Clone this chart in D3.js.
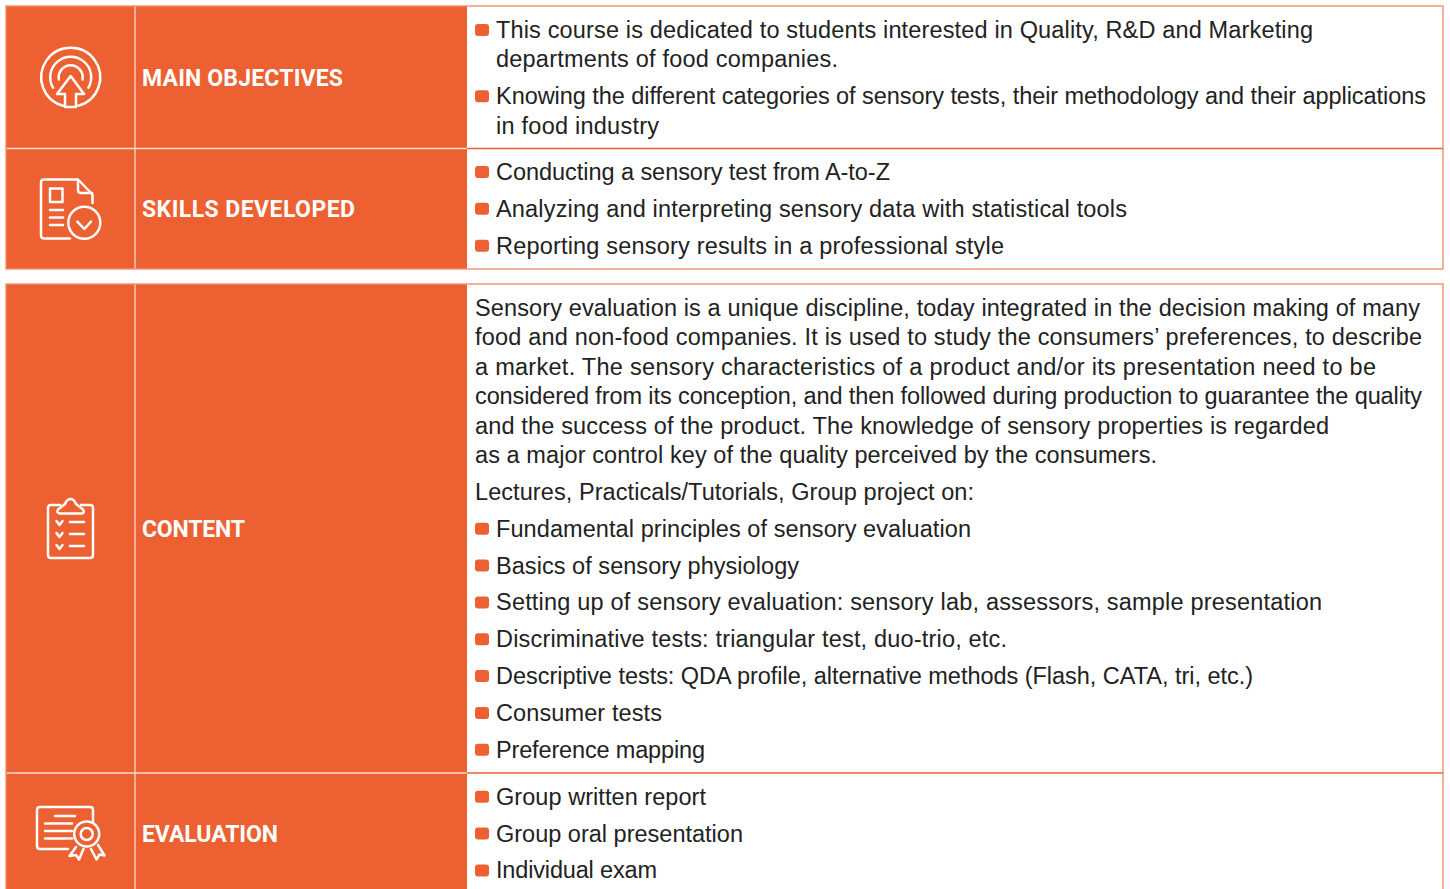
<!DOCTYPE html>
<html>
<head>
<meta charset="utf-8">
<title>Course sheet</title>
<script src="https://cdn.jsdelivr.net/npm/d3@7"></script>
<style>
    html, body { margin: 0; padding: 0; background: #fff; overflow: hidden; }
    svg { display: block; }
    .heading { font-family: Roboto, sans-serif; font-weight: 700; font-size: 23px; fill: #fff; }
    .line { font-family: "Liberation Sans", sans-serif; font-size: 23.5px; fill: #222; }
    .icon { fill: none; stroke: #fff; stroke-width: 2.5; stroke-linecap: round; stroke-linejoin: round; }
</style>
</head>
<body>
<svg id="sheet" width="1450" height="889"></svg>
<script>
// each entry is one item, each item is its wrapped lines
const objectives = [
    ["This course is dedicated to students interested in Quality, R&D and Marketing", "departments of food companies."],
    ["Knowing the different categories of sensory tests, their methodology and their applications", "in food industry"]
];
const skills = [
    ["Conducting a sensory test from A-to-Z"],
    ["Analyzing and interpreting sensory data with statistical tools"],
    ["Reporting sensory results in a professional style"]
];
const contentIntro = [
    ["Sensory evaluation is a unique discipline, today integrated in the decision making of many",
     "food and non-food companies. It is used to study the consumers\u2019 preferences, to describe",
     "a market. The sensory characteristics of a product and/or its presentation need to be",
     "considered from its conception, and then followed during production to guarantee the quality",
     "and the success of the product. The knowledge of sensory properties is regarded",
     "as a major control key of the quality perceived by the consumers."],
    ["Lectures, Practicals/Tutorials, Group project on:"]
];
const contentTopics = [
    ["Fundamental principles of sensory evaluation"],
    ["Basics of sensory physiology"],
    ["Setting up of sensory evaluation: sensory lab, assessors, sample presentation"],
    ["Discriminative tests: triangular test, duo-trio, etc."],
    ["Descriptive tests: QDA profile, alternative methods (Flash, CATA, tri, etc.)"],
    ["Consumer tests"],
    ["Preference mapping"]
];
const evaluation = [
    ["Group written report"],
    ["Group oral presentation"],
    ["Individual exam"]
];

const ORANGE = "#ec6031";
const EDGE = "#f3906f";
const RULE = "#fbd9cb";
const colX = [6, 135, 467, 1443];
const LINE_GAP = 29.4;
const ITEM_GAP = 36.85;

// where each line of text ends, the font here runs a bit wider than the original
const lineEnds = [1313, 838, 1426, 659, 890, 1127, 1004, 1420, 1422, 1376, 1422, 1329, 1157, 974,
    971, 799, 1322, 1007, 1253, 662, 705, 706, 743, 657];
let lineNo = 0;

const svg = d3.select("#sheet");

const rows = [
    { title: "MAIN OBJECTIVES", titleWidth: 201, titleY: 86, top: 6, bottom: 148.5, first: 30, icon: drawTarget,
      blocks: [{ items: objectives, bullet: true }] },
    { title: "SKILLS DEVELOPED", titleWidth: 213, titleY: 217, top: 148.5, bottom: 269, first: 172, icon: drawDoc,
      blocks: [{ items: skills, bullet: true }] },
    { title: "CONTENT", titleWidth: 103, titleY: 537, top: 284, bottom: 773, first: 308, icon: drawClipboard,
      blocks: [{ items: contentIntro, bullet: false }, { items: contentTopics, bullet: true }] },
    { title: "EVALUATION", titleWidth: 136, titleY: 842, top: 773, bottom: 895, first: 796.7, icon: drawCertificate,
      blocks: [{ items: evaluation, bullet: true }] }
];

const row = svg.selectAll("g.row").data(rows).join("g").attr("class", "row");

row.append("rect")
    .attr("x", colX[0]).attr("y", d => d.top)
    .attr("width", colX[2] - colX[0]).attr("height", d => d.bottom - d.top)
    .attr("fill", ORANGE);

row.append("line")
    .attr("x1", colX[1]).attr("x2", colX[1])
    .attr("y1", d => d.top).attr("y2", d => d.bottom)
    .attr("stroke", RULE).attr("stroke-width", 1.3);

row.append("text")
    .attr("class", "heading")
    .attr("x", 142)
    .attr("y", d => d.titleY)
    .attr("textLength", d => d.titleWidth)
    .text(d => d.title);

// panel outlines and the rules between rows
[[6, 269], [284, 895]].forEach(([top, bottom]) => {
    svg.append("rect")
        .attr("x", colX[0]).attr("y", top)
        .attr("width", colX[3] - colX[0]).attr("height", bottom - top)
        .attr("fill", "none").attr("stroke", EDGE).attr("stroke-width", 1.4);
});
[148.5, 773].forEach(y => {
    svg.append("line").attr("x1", colX[0] + 1).attr("x2", colX[2]).attr("y1", y).attr("y2", y)
        .attr("stroke", RULE).attr("stroke-width", 1.3);
    svg.append("line").attr("x1", colX[2]).attr("x2", colX[3]).attr("y1", y).attr("y2", y)
        .attr("stroke", ORANGE).attr("stroke-width", 1.3);
});

rows.forEach(r => {
    let y = r.first;
    r.blocks.forEach(block => {
        block.items.forEach(item => {
            if (block.bullet) {
                svg.append("rect")
                    .attr("x", 475).attr("y", y - 6)
                    .attr("width", 14).attr("height", 12).attr("rx", 3)
                    .attr("fill", ORANGE);
            }
            item.forEach((txt, i) => {
                const x = block.bullet ? 496 : 475;
                svg.append("text")
                    .attr("class", "line")
                    .attr("x", x)
                    .attr("y", y + i * LINE_GAP + 8)
                    .attr("textLength", lineEnds[lineNo++] - x)
                    .text(txt);
            });
            y += (item.length - 1) * LINE_GAP + ITEM_GAP;
        });
    });
    r.icon(svg.append("g").attr("class", "icon"));
});

function drawTarget(g) {
    const arc = d3.arc();
    const cx = 70.7, cy = 77.3;
    [[29.5, 2.88], [20.5, 2.1], [12, 1.75]].forEach(([r, a]) => {
        g.append("path")
            .attr("transform", `translate(${cx},${cy})`)
            .attr("d", arc({ innerRadius: r, outerRadius: r, startAngle: -a, endAngle: a }));
    });
    g.append("path").attr("d", "M70.7 76 L57 94 H65 V107 H76 V94 H84 Z");
}

function drawDoc(g) {
    g.append("path").attr("d", "M70 238.5 H44 Q41 238.5 41 235.5 V182.5 Q41 179.5 44 179.5 H78 L92.5 194.5 V203");
    g.append("path").attr("d", "M78 180 V190 Q78 193 81 193 H92");
    g.append("rect").attr("x", 50).attr("y", 188.5).attr("width", 12.5).attr("height", 13.5);
    [210, 217.5, 225].forEach(y => g.append("path").attr("d", `M50 ${y} H63`));
    g.append("circle").attr("cx", 84.3).attr("cy", 222.7).attr("r", 16);
    g.append("path").attr("d", "M77.3 221.7 L84.3 229 L91 221.7");
}

function drawClipboard(g) {
    g.append("path").attr("d", "M60 505 H51 Q48 505 48 508 V555 Q48 558 51 558 H90 Q93 558 93 555 V508 Q93 505 90 505 H81");
    g.append("path").attr("d", "M60 513.5 H82 Q85 513 83 509.5 L76 504 Q74 499 70.5 499 Q67 499 65 504 L58 509.5 Q56 513 60 513.5 Z");
    [523, 535, 547].forEach(y => {
        g.append("path").attr("d", `M56.5 ${y - 2} L59.5 ${y + 2} L62.5 ${y - 2}`);
        g.append("path").attr("d", `M70 ${y - 1} H84`);
    });
}

function drawCertificate(g) {
    g.append("path").attr("d", "M68 849 H40 Q37 849 37 846 V810 Q37 807 40 807 H90 Q93 807 93 810 V823");
    g.append("path").attr("d", "M55 816 H75");
    [823.5, 831, 838.5].forEach(y => g.append("path").attr("d", `M45 ${y} H72`));
    g.append("circle").attr("cx", 86.7).attr("cy", 834).attr("r", 12.5);
    g.append("circle").attr("cx", 86.7).attr("cy", 834).attr("r", 6);
    g.append("path").attr("d", "M76 847 L69.5 856 L76 855 L79 859.5 L83.5 849");
    g.append("path").attr("d", "M91 849 L96.5 859.5 L99.5 854.5 L104.5 855.5 L98 845");
}
</script>
</body>
</html>
